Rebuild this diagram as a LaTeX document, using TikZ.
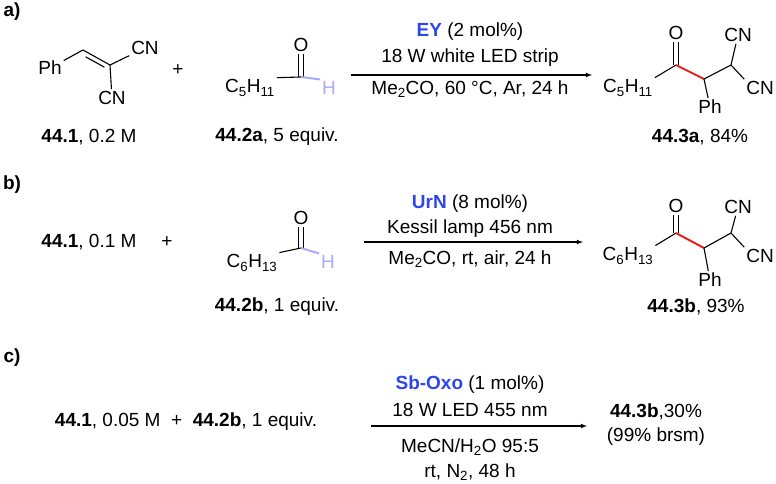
\documentclass[tikz,border=0pt]{standalone}
\usepackage{fontspec}
\setmainfont{Liberation Sans}
\usetikzlibrary{arrows.meta, calc}
\definecolor{cblue}{RGB}{45,70,235}
\definecolor{hblue}{RGB}{170,170,250}
\definecolor{bred}{RGB}{230,30,30}
\newcommand{\sub}[1]{\textsubscript{#1}}

\begin{document}
\begin{tikzpicture}[x=1pt,y=-1pt,>=latex,line width=1.1pt,
  every node/.style={font=\fontsize{19}{22}\selectfont,inner sep=1.5pt},
  lbl/.style={font=\fontsize{19}{22}\selectfont\bfseries},
  txt/.style={align=center}]
  \useasboundingbox (0,0) rectangle (776,483);

  % 見出し
  \node[lbl] (la) at (12,12) {a)};
  \node[lbl] (lb) at (12,185) {b)};
  \node[lbl] (lc) at (12,358) {c)};

  % a) 原料 44.1
  \node (ph1) at (50,68) {Ph};
  \coordinate (v1) at (83,50);
  \coordinate (v2) at (110,65);
  \node (cn1) at (145,48) {CN};
  \node (cn2) at (112,98) {CN};
  \draw (ph1) -- (v1) -- (v2) -- (cn1);
  \draw ($(v1)!0.15!(v2)+(-1.5,4.5)$) -- ($(v1)!0.85!(v2)+(-1.5,4.5)$);
  \draw (v2) -- (cn2);
  \node (ta1) at (89,137) {\textbf{44.1}, 0.2 M};
  \node (pa) at (178,70) {+};

  % a) アルデヒド
  \node (ra) at (250,88) {C\sub{5}H\sub{11}};
  \coordinate (ca) at (301,77);
  \node (oa) at (301,45) {O};
  \node[text=hblue] (ha) at (329,88) {H};
  \draw (ra.north east) -- (ca);
  \draw ([xshift=-2.5pt]ca) -- ([xshift=-2.5pt]oa.south);
  \draw ([xshift=2.5pt]ca) -- ([xshift=2.5pt]oa.south);
  \draw[hblue,line width=2pt] (ca) -- (ha.north west);
  \node (ta2) at (277,137) {\textbf{44.2a}, 5 equiv.};

  % a) 矢印
  \coordinate (as) at (351,75);
  \coordinate (ae) at (592,75);
  \draw[->] (as) -- (ae);
  \node[txt] (ea1) at (470,32) {\textcolor{cblue}{\textbf{EY}} (2 mol\%)};
  \node[txt] (ea2) at (470,58) {18 W white LED strip};
  \node[txt] (ea3) at (470,89) {Me\sub{2}CO, 60 °C, Ar, 24 h};

  % a) 生成物
  \node (rp) at (628,88) {C\sub{5}H\sub{11}};
  \coordinate (k1) at (676,65);
  \node (op) at (676,33) {O};
  \coordinate (k2) at (704,79);
  \coordinate (k3) at (731,65);
  \node (php) at (710,107) {Ph};
  \node (cnp1) at (738,35) {CN};
  \node (cnp2) at (760,88) {CN};
  \draw (rp.north east) -- (k1);
  \draw ([xshift=-2.5pt]k1) -- ([xshift=-2.5pt]op.south);
  \draw ([xshift=2.5pt]k1) -- ([xshift=2.5pt]op.south);
  \draw[bred,line width=2pt] (k1) -- (k2);
  \draw (k2) -- (k3) -- (cnp1);
  \draw (k3) -- (cnp2.north west);
  \draw (k2) -- (php);
  \node (tp1) at (700,137) {\textbf{44.3a}, 84\%};

  % b) 原料
  \node (tb1) at (89,242) {\textbf{44.1}, 0.1 M};
  \node (pb) at (167,242) {+};
  \node (rb) at (252,263) {C\sub{6}H\sub{13}};
  \coordinate (cb) at (301,248);
  \node (ob) at (301,218) {O};
  \node[text=hblue] (hb) at (328,262) {H};
  \draw (rb.north east) -- (cb);
  \draw ([xshift=-2.5pt]cb) -- ([xshift=-2.5pt]ob.south);
  \draw ([xshift=2.5pt]cb) -- ([xshift=2.5pt]ob.south);
  \draw[hblue,line width=2pt] (cb) -- (hb.north west);
  \node (tb2) at (277,307) {\textbf{44.2b}, 1 equiv.};

  % b) 矢印
  \coordinate (bs) at (364,242);
  \coordinate (be) at (583,242);
  \draw[->] (bs) -- (be);
  \node[txt] (eb1) at (470,204) {\textcolor{cblue}{\textbf{UrN}} (8 mol\%)};
  \node[txt] (eb2) at (470,229) {Kessil lamp 456 nm};
  \node[txt] (eb3) at (470,259) {Me\sub{2}CO, rt, air, 24 h};

  % b) 生成物
  \node (rq) at (628,256) {C\sub{6}H\sub{13}};
  \coordinate (m1) at (676,233);
  \node (oq) at (676,206) {O};
  \coordinate (m2) at (704,248);
  \coordinate (m3) at (731,233);
  \node (phq) at (710,280) {Ph};
  \node (cnq1) at (738,207) {CN};
  \node (cnq2) at (760,256) {CN};
  \draw (rq.north east) -- (m1);
  \draw ([xshift=-2.5pt]m1) -- ([xshift=-2.5pt]oq.south);
  \draw ([xshift=2.5pt]m1) -- ([xshift=2.5pt]oq.south);
  \draw[bred,line width=2pt] (m1) -- (m2);
  \draw (m2) -- (m3) -- (cnq1);
  \draw (m3) -- (cnq2.north west);
  \draw (m2) -- (phq);
  \node (tq) at (696,307) {\textbf{44.3b}, 93\%};

  % c)
  \node (tc1) at (186,422) {\textbf{44.1}, 0.05 M \ + \ \textbf{44.2b}, 1 equiv.};
  \coordinate (cs) at (371,426);
  \coordinate (ce) at (587,426);
  \draw[->] (cs) -- (ce);
  \node[txt] (ec1) at (470,385) {\textcolor{cblue}{\textbf{Sb-Oxo}} (1 mol\%)};
  \node[txt] (ec2) at (470,410) {18 W LED 455 nm};
  \node[txt] (ec3) at (470,447) {MeCN/H\sub{2}O 95:5};
  \node[txt] (ec4) at (470,472) {rt, N\sub{2}, 48 h};
  \node (tc2) at (656,412) {\textbf{44.3b},30\%};
  \node (tc3) at (656,437) {(99\% brsm)};
\end{tikzpicture}
\end{document}
